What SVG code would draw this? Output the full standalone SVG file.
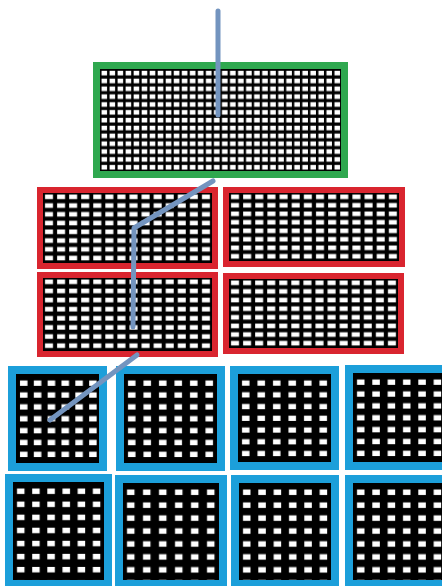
<svg xmlns="http://www.w3.org/2000/svg" width="442" height="586" viewBox="0 0 442 586">
<style>
.g{fill:#000;stroke:#2fa84f;stroke-width:7}
.r{fill:#000;stroke:#d9252f;stroke-width:6}
.b{fill:#000;stroke:#1c9fda;stroke-width:8}
.gf{fill:url(#pg)}
.rf{fill:url(#pr)}
.bf{fill:url(#pb)}
.c{fill:none;stroke:#7394bf;stroke-width:5;stroke-linecap:round;stroke-linejoin:round}
</style>
<defs>
<pattern id="pg" patternUnits="objectBoundingBox" x="0" y="0" width="0.03333" height="0.07692">
<rect x="1.5" y="1.8" width="5.6" height="4.6" fill="#fff"/>
</pattern>
<pattern id="pr" patternUnits="objectBoundingBox" x="0" y="0" width="0.07143" height="0.125">
<rect x="2" y="1.5" width="8" height="4.6" fill="#fff"/>
</pattern>
<pattern id="pb" patternUnits="objectBoundingBox" x="0" y="0" width="0.16667" height="0.13333">
<rect x="4" y="6.5" width="7.5" height="5.5" fill="#fff"/>
</pattern>
</defs>
<rect width="442" height="586" fill="#fff"/>
<g id="node-top">
<rect class="g" x="96.5" y="65.5" width="248" height="109"/>
<rect class="gf" x="100" y="69" width="241" height="102"/>
</g>
<g id="node-r1">
<rect class="r" x="40" y="190" width="175" height="76"/>
<rect class="rf" x="43" y="193" width="169" height="70"/>
</g>
<g id="node-r2">
<rect class="r" x="226" y="190" width="176" height="74"/>
<rect class="rf" x="229" y="193" width="170" height="68"/>
</g>
<g id="node-r3">
<rect class="r" x="40" y="275" width="175" height="79"/>
<rect class="rf" x="43" y="278" width="169" height="73"/>
</g>
<g id="node-r4">
<rect class="r" x="226" y="276" width="175" height="75"/>
<rect class="rf" x="229" y="279" width="169" height="69"/>
</g>
<g id="node-b1">
<rect class="b" x="12" y="370" width="91" height="97"/>
<rect class="bf" x="16" y="374" width="83" height="89"/>
</g>
<g id="node-b2">
<rect class="b" x="120" y="370" width="101" height="97"/>
<rect class="bf" x="124" y="374" width="93" height="89"/>
</g>
<g id="node-b3">
<rect class="b" x="234" y="370" width="101" height="96"/>
<rect class="bf" x="238" y="374" width="93" height="88"/>
</g>
<g id="node-b4">
<rect class="b" x="349" y="369" width="100" height="97"/>
<rect class="bf" x="353" y="373" width="92" height="89"/>
</g>
<g id="node-c1">
<rect class="b" x="9" y="478" width="99" height="106"/>
<rect class="bf" x="13" y="482" width="91" height="98"/>
</g>
<g id="node-c2">
<rect class="b" x="119" y="479" width="104" height="105"/>
<rect class="bf" x="123" y="483" width="96" height="97"/>
</g>
<g id="node-c3">
<rect class="b" x="235" y="479" width="100" height="105"/>
<rect class="bf" x="239" y="483" width="92" height="97"/>
</g>
<g id="node-c4">
<rect class="b" x="349" y="479" width="100" height="105"/>
<rect class="bf" x="353" y="483" width="92" height="97"/>
</g>
<g id="connectors">
<polyline class="c" points="218,11 218,115"/>
<polyline class="c" points="213,181 134,228 133,327"/>
<polyline class="c" points="137,355 50,420"/>
</g>
</svg>
